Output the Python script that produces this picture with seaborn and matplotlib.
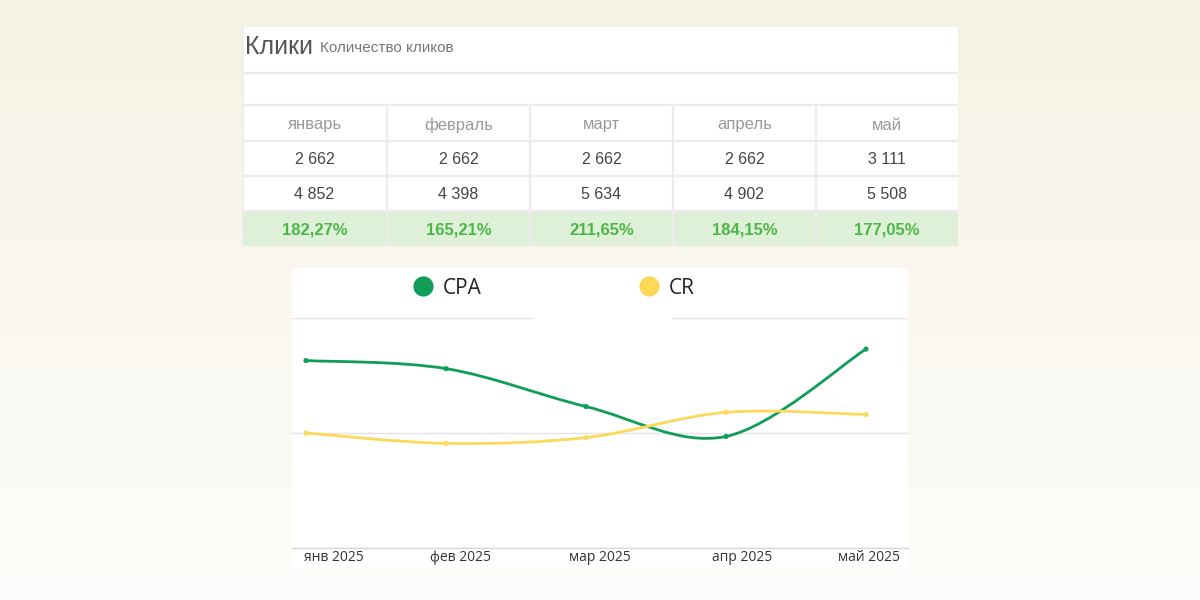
import numpy as np
import pandas as pd
import matplotlib
matplotlib.use('Agg')
import matplotlib.pyplot as plt
import seaborn as sns
from matplotlib.path import Path
from matplotlib.patches import PathPatch, Rectangle
from matplotlib.lines import Line2D
from matplotlib.colors import LinearSegmentedColormap
import matplotlib.transforms as mtransforms

# ---------------- data ----------------
title = 'Клики'
subtitle = 'Количество кликов'
months_table = ['январь', 'февраль', 'март', 'апрель', 'май']
row_clicks_1 = ['2 662', '2 662', '2 662', '2 662', '3 111']
row_clicks_2 = ['4 852', '4 398', '5 634', '4 902', '5 508']
row_ratio = ['182,27%', '165,21%', '211,65%', '184,15%', '177,05%']

x_labels = ['янв 2025', 'фев 2025', 'мар 2025', 'апр 2025', 'май 2025']
cpa_values = [1.63, 1.56, 1.23, 0.97, 1.73]
cr_values = [1.00, 0.91, 0.96, 1.18, 1.16]
series_names = ['CPA', 'CR']

# ---------------- style ----------------
sns.set_theme(style='white')
plt.rcParams['font.family'] = ['Open Sans', 'DejaVu Sans']
TABLE_FONT = ['Liberation Sans', 'DejaVu Sans']

GREEN = '#0f9d58'
YELLOW = '#fdd95a'
W, H = 1200, 600

fig = plt.figure(figsize=(12, 6), dpi=100)


def rect(x0, y0, x1, y1):
    return [x0 / W, 1 - y1 / H, (x1 - x0) / W, (y1 - y0) / H]


# background gradient
bg = fig.add_axes([0, 0, 1, 1])
grad = np.linspace(0, 1, 256).reshape(-1, 1)
cmap = LinearSegmentedColormap.from_list('bg', ['#f5f2e4', '#fefdfb'])
bg.imshow(grad, aspect='auto', cmap=cmap, extent=[0, 1, 0, 1], origin='upper')
bg.set_axis_off()

# ---------------- table ----------------
tab = fig.add_axes(rect(242, 27, 958, 246))
tab.set_xlim(0, 716)
tab.set_ylim(219, 0)
tab.set_axis_off()
col_edges = [0, 145, 288, 431, 574, 716]
row_edges = [0, 46, 78, 114, 149, 184, 219]
line_c = '#ececec'

tab.add_patch(Rectangle((0, 0), 716, 184, facecolor='white', edgecolor='none', zorder=0))
tab.add_patch(Rectangle((0, 184), 716, 35, facecolor='#dff0d8', edgecolor='none', zorder=0))
for y in row_edges[1:-1]:
    tab.plot([0, 716], [y, y], color=line_c, lw=1.6, zorder=1)
for x in col_edges[1:-1]:
    tab.plot([x, x], [78, 219], color=line_c, lw=1.6, zorder=1)
tab.plot([0.8, 0.8], [0, 219], color=line_c, lw=1.2, zorder=1)

tab.text(3, 19.5, title, fontsize=18, color='#555555', va='center', ha='left', family=TABLE_FONT)
tab.text(78, 20.5, subtitle, fontsize=11, color='#777777', va='center', ha='left', family=TABLE_FONT)

centers = [(col_edges[i] + col_edges[i + 1]) / 2 for i in range(5)]
for i in range(5):
    tab.text(centers[i], 98, months_table[i], fontsize=12, color='#9a9a9a', ha='center', va='center', family=TABLE_FONT)
    tab.text(centers[i], 132.5, row_clicks_1[i], fontsize=11.5, color='#444444', ha='center', va='center', family=TABLE_FONT)
    tab.text(centers[i], 167.5, row_clicks_2[i], fontsize=11.5, color='#444444', ha='center', va='center', family=TABLE_FONT)
    tab.text(centers[i], 203, row_ratio[i], fontsize=12, color='#4cb648', ha='center', va='center',
             fontweight='bold', family=TABLE_FONT)

# ---------------- chart ----------------
panel = fig.add_axes(rect(292, 268, 908, 568))
panel.set_axis_off()
panel.add_patch(Rectangle((0, 0), 1, 1, transform=panel.transAxes, facecolor='white', edgecolor='none'))

ax = fig.add_axes(rect(292, 318, 908, 548))
ax.set_facecolor('none')
for s in ax.spines.values():
    s.set_visible(False)
ax.spines['bottom'].set_visible(True)
ax.spines['bottom'].set_color('#d8d8d8')
ax.spines['bottom'].set_linewidth(1.0)
ax.set_xlim(-0.1, 4.3)
ax.set_ylim(0, 2)
ax.set_yticks([0, 1, 2])
ax.set_yticklabels([])
ax.yaxis.grid(True, color='#e4e4e4', lw=1.0)
ax.tick_params(axis='both', length=0)

df = pd.DataFrame({
    'idx': list(range(5)) * 2,
    'value': cpa_values + cr_values,
    'series': ['CPA'] * 5 + ['CR'] * 5,
})


def smooth_path(xs, ys, k=1.0):
    pts = np.column_stack([xs, ys]).astype(float)
    n = len(pts)
    verts = [pts[0]]
    codes = [Path.MOVETO]
    for i in range(n - 1):
        p0 = pts[i - 1] if i > 0 else pts[i]
        p1 = pts[i]
        p2 = pts[i + 1]
        p3 = pts[i + 2] if i + 2 < n else pts[i + 1]
        c1 = p1 + (p2 - p0) / 6 * k
        c2 = p2 - (p3 - p1) / 6 * k
        verts += [c1, c2, p2]
        codes += [Path.CURVE4] * 3
    return Path(verts, codes)


for name, col in zip(series_names, [GREEN, YELLOW]):
    sub = df[df['series'] == name]
    ax.add_patch(PathPatch(smooth_path(sub['idx'], sub['value']), facecolor='none',
                           edgecolor=col, lw=2.0, zorder=3, capstyle='round'))
sns.scatterplot(data=df, x='idx', y='value', hue='series', palette=[GREEN, YELLOW],
                s=14, edgecolor='none', legend=False, ax=ax, zorder=4)
ax.set_xlabel('')
ax.set_ylabel('')

ax.set_xticks(range(5))
ax.set_xticklabels(x_labels, fontsize=10, color='#333333')
ax.tick_params(axis='x', pad=1.5)
label_offsets = [28, 14, 14, 16, 3]
for lbl, off in zip(ax.get_xticklabels(), label_offsets):
    lbl.set_transform(lbl.get_transform() + mtransforms.ScaledTranslation(off / 100, 0, fig.dpi_scale_trans))

# white box that interrupts the top grid line (legend background)
fig.patches.append(Rectangle((533 / W, 1 - 326 / H), (672 - 533) / W, 14 / H,
                             transform=fig.transFigure, facecolor='white', edgecolor='none', zorder=5))

handles = [Line2D([], [], marker='o', linestyle='none', markersize=14.5, color=c, markeredgewidth=0)
           for c in [GREEN, YELLOW]]
fig.legend(handles, series_names, loc='center left', bbox_to_anchor=(412.6 / W, 1 - 288 / H),
           ncol=2, frameon=False, fontsize=15, handlelength=1.0, handletextpad=0.46,
           columnspacing=7.5, borderpad=0, borderaxespad=0, labelcolor='#222222')

fig.savefig('out.png', dpi=100)
